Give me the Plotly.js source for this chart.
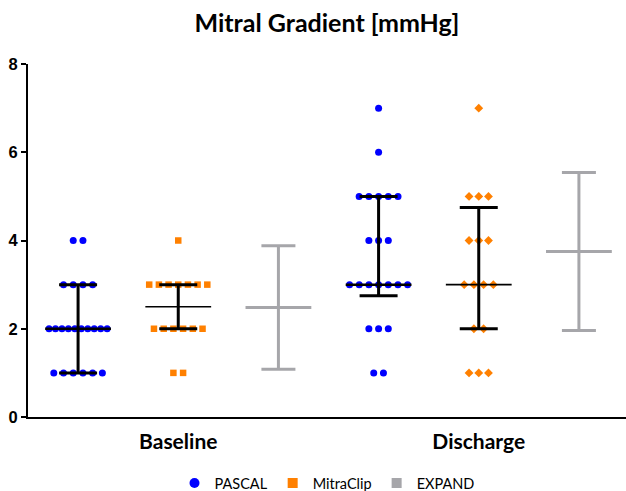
<!DOCTYPE html>
<html><head><meta charset="utf-8">
<script src="https://cdn.plot.ly/plotly-3.0.1.min.js"></script>
<style>html,body{margin:0;padding:0;background:#fff}#chart{width:626px;height:491px}</style>
</head><body><div id="chart"></div>
<script>
// ---- data ----
const categories = ['Baseline', 'Discharge'];
const seriesNames = ['PASCAL', 'MitraClip', 'EXPAND'];
const pValues = ['p=0.18', 'p=0.61'];
const pascalBaseline = [4,4,3,3,3,3,2,2,2,2,2,2,2,2,2,2,1,1,1,1,1,1];
const pascalDischarge = [7,6,5,5,5,5,5,4,4,4,3,3,3,3,3,3,3,2,2,2,1,1];
const mitraclipBaseline = [4,3,3,3,3,3,3,3,2,2,2,2,2,2,1,1];
const mitraclipDischarge = [7,5,5,5,4,4,4,3,3,3,3,2,2,1,1,1];
const expandMean = [2.48, 3.75];
const expandSD = [1.40, 1.79];
const yTicks = [0, 2, 4, 6, 8];

// ---- styles ----
const BLUE = '#0000ff', ORANGE = '#ff8000', GRAY = '#a6a6aa';
const FONT = 'Lato, "Open Sans", sans-serif';
const MED_SIZE = 47; // line-ew symbol spans 1.4*size px

function quant(arr, p) {
  const s = [...arr].sort((a, b) => a - b), n = s.length;
  const pos = (n + 1) * p;
  if (pos <= 1) return s[0];
  if (pos >= n) return s[n - 1];
  const lo = Math.floor(pos), f = pos - lo;
  return s[lo - 1] + f * (s[lo] - s[lo - 1]);
}
function swarm(vals, center) {
  const counts = {}, idx = {};
  vals.forEach(v => counts[v] = (counts[v] || 0) + 1);
  return vals.map(v => {
    const n = counts[v];
    idx[v] = idx[v] === undefined ? 0 : idx[v] + 1;
    const s = n > 1 ? Math.min(0.097, 0.58 / (n - 1)) : 0;
    return center + (idx[v] - (n - 1) / 2) * s;
  });
}
const groupX = (g, s) => g * 3 + s;

const pascalSets = [pascalBaseline, pascalDischarge];
const mitraSets = [mitraclipBaseline, mitraclipDischarge];

const traces = [];
// dots
traces.push({
  type: 'scatter', mode: 'markers', showlegend: false, cliponaxis: false,
  x: swarm(pascalBaseline, groupX(0, 0)).concat(swarm(pascalDischarge, groupX(1, 0))),
  y: pascalBaseline.concat(pascalDischarge),
  marker: {symbol: 'circle', size: 7, color: BLUE}, hoverinfo: 'y'
});
traces.push({
  type: 'scatter', mode: 'markers', showlegend: false, cliponaxis: false,
  x: swarm(mitraclipBaseline, groupX(0, 1)), y: mitraclipBaseline,
  marker: {symbol: 'square', size: 6.5, color: ORANGE}, hoverinfo: 'y'
});
traces.push({
  type: 'scatter', mode: 'markers', showlegend: false, cliponaxis: false,
  x: swarm(mitraclipDischarge, groupX(1, 1)), y: mitraclipDischarge,
  marker: {symbol: 'diamond', size: 6.8, color: ORANGE}, hoverinfo: 'y'
});
// median + IQR
function summary(sets, s, medW) {
  const med = sets.map(a => quant(a, 0.5));
  const q1 = sets.map(a => quant(a, 0.25));
  const q3 = sets.map(a => quant(a, 0.75));
  return {
    type: 'scatter', mode: 'markers', showlegend: false, cliponaxis: false,
    x: categories.map((c, g) => groupX(g, s)), y: med,
    error_y: {type: 'data', symmetric: false, array: q3.map((v, i) => v - med[i]),
      arrayminus: med.map((v, i) => v - q1[i]), color: '#000', thickness: 3, width: 19},
    marker: {symbol: 'line-ew', size: MED_SIZE, color: '#000', line: {color: '#000', width: medW}}
  };
}
traces.push(summary(pascalSets, 0, 2.5));
traces.push(summary(mitraSets, 1, 1.6));
// EXPAND mean +- SD
traces.push({
  type: 'scatter', mode: 'markers', showlegend: false, cliponaxis: false,
  x: categories.map((c, g) => groupX(g, 2)), y: expandMean,
  error_y: {type: 'data', symmetric: true, array: expandSD, color: GRAY, thickness: 3, width: 17},
  marker: {symbol: 'line-ew', size: MED_SIZE, color: GRAY, line: {color: GRAY, width: 3}}
});
// legend entries
const legSym = ['circle', 'square', 'square'], legCol = [BLUE, ORANGE, GRAY];
seriesNames.forEach((n, i) => traces.push({
  type: 'scatter', mode: 'markers', name: n, x: [null], y: [null],
  marker: {symbol: legSym[i], size: 10, color: legCol[i]}
}));

const layout = {
  width: 626, height: 491,
  margin: {l: 28, r: 0, t: 64, b: 74},
  paper_bgcolor: '#fff', plot_bgcolor: '#fff',
  showlegend: true,
  title: {text: 'Mitral Gradient [mmHg]', font: {family: FONT, size: 25, color: '#000', weight: 'bold'},
    x: 0.5, xref: 'paper', xanchor: 'center', y: 0.952, yref: 'container', yanchor: 'middle'},
  xaxis: {range: [-0.5, 5.47], tickvals: categories.map((c, g) => groupX(g, 1)), ticktext: categories,
    showline: true, linecolor: '#000', linewidth: 2, ticks: '', showgrid: false, zeroline: false,
    tickfont: {family: FONT, size: 21, color: '#000', weight: 'bold'}, ticklabelstandoff: 5, fixedrange: true},
  yaxis: {range: [0, 8], tickvals: yTicks, showline: true, linecolor: '#000', linewidth: 2,
    ticks: 'outside', ticklen: 5, tickwidth: 2, tickcolor: '#000', showgrid: false, zeroline: false,
    tickfont: {family: '"Liberation Sans", Arial, sans-serif', size: 16.5, color: '#000', weight: 'bold'}, fixedrange: true},
  legend: {orientation: 'h', x: 0.5, xref: 'paper', xanchor: 'center', y: 0.016, yref: 'container', yanchor: 'middle',
    font: {family: FONT, size: 14.5, color: '#000'}},
  annotations: pValues.map((t, g) => ({
    text: t, x: groupX(g, 0.48), y: 8.14, xref: 'x', yref: 'y', showarrow: false,
    font: {family: FONT, size: 14, color: '#000', weight: 'bold'}
  }))
};
Plotly.newPlot('chart', traces, layout, {displayModeBar: false, staticPlot: true});
</script>
</body></html>
